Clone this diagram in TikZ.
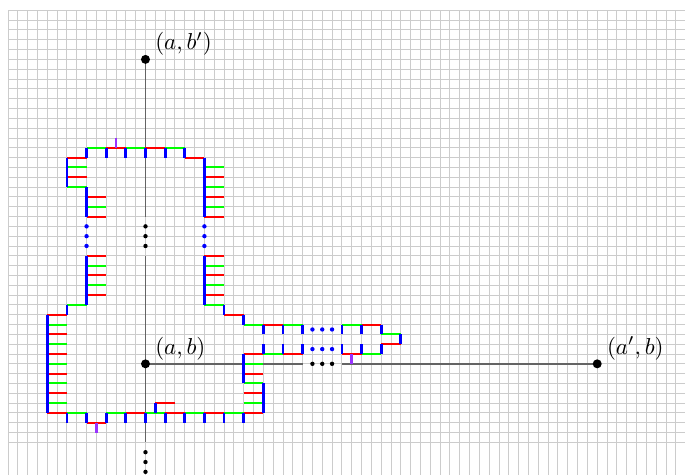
\documentclass[tikz,border=0pt]{standalone}
\definecolor{gridc}{RGB}{204,204,204}
\definecolor{axisc}{RGB}{100,100,100}
\definecolor{pur}{RGB}{153,51,255}
\definecolor{grn}{RGB}{0,255,0}
\definecolor{rd}{RGB}{255,0,0}
\definecolor{bl}{RGB}{0,0,255}
\begin{document}
\begin{tikzpicture}[x=0.15cm,y=-0.15cm,
  gridline/.style={draw=gridc,line width=0.4pt},
  axisline/.style={draw=axisc,line width=0.75pt},
  gseg/.style={draw=grn,line width=0.85pt},
  rseg/.style={draw=rd,line width=0.85pt},
  bseg/.style={draw=bl,line width=1.2pt},
  pseg/.style={draw=pur,line width=1.2pt},
  ptdot/.style={circle,fill=black,inner sep=0pt,minimum size=3.9pt},
  lab/.style={anchor=base west,inner sep=0pt}]
\useasboundingbox (-0.815,-1.05) rectangle (68.94,47.22);
\clip (-0.815,-1.05) rectangle (68.94,47.22);
% grid
\foreach \r in {0,...,44} \draw[gridline] (0,\r) -- (70,\r);
\foreach \c in {0,...,69} \draw[gridline] (\c,0) -- (\c,48);
% axes
\coordinate (abp) at (14,5);
\coordinate (ab) at (14,36);
\coordinate (apb) at (60,36);
\coordinate (v1) at (14,21);
\coordinate (v2) at (14,25);
\coordinate (v3) at (14,44);
\coordinate (h1) at (30,36);
\coordinate (h2) at (34,36);
\draw[axisline] (abp) -- (v1);
\draw[axisline] (v2) -- (v3);
\draw[axisline] (ab) -- (h1);
\draw[axisline] (h2) -- (apb);
\foreach \r in {22,23,24,45,46,47} \fill[black] (14,\r) circle (0.95pt);
\foreach \c in {31,32,33} \fill[black] (\c,36) circle (0.95pt);
% green segments
\foreach \r/\c in {14/8,14/12,14/16,16/6,16/20,18/6,18/20,20/8,20/20,26/8,26/20,28/8,28/20,30/6,30/20,32/4,32/24,32/28,32/34,33/38,34/4,35/26,35/36,36/4,36/24,38/4,38/24,40/4,40/24,41/6,41/10,41/14,41/18,41/22}
  \draw[gseg] (\c,\r) -- ++(2,0);
% red segments
\foreach \r/\c in {14/10,14/14,15/6,15/18,17/6,17/20,19/8,19/20,21/8,21/20,25/8,25/20,27/8,27/20,29/8,29/20,31/4,31/22,32/26,32/36,33/4,34/38,35/4,35/24,35/28,35/34,37/4,37/24,39/4,39/24,40/15,41/4,41/12,41/16,41/20,41/24,42/8}
  \draw[rseg] (\c,\r) -- ++(2,0);
% blue segments
\foreach \c/\a/\b in {4/31/41,6/15/18,6/30/31,6/41/42,8/14/15,8/18/21,8/25/30,8/41/42,10/14/15,10/41/42,12/14/15,12/41/42,14/14/15,14/41/42,15/40/41,16/14/15,16/41/42,18/14/15,18/41/42,20/15/21,20/25/30,20/41/42,22/30/31,22/41/42,24/31/32,24/35/38,24/41/42,26/32/33,26/34/35,26/38/41,28/32/33,28/34/35,30/32/33,30/34/35,34/32/33,34/34/35,36/32/33,36/34/35,38/32/33,38/34/35,40/33/34}
  \draw[bseg] (\c,\a) -- (\c,\b);
% purple ticks
\foreach \c/\a/\b in {11/13/14,9/42/43,35/35/36}
  \draw[pseg] (\c,\a) -- (\c,\b);
% blue dots
\foreach \r in {22,23,24} {\fill[bl] (8,\r) circle (0.95pt); \fill[bl] (20,\r) circle (0.95pt);}
\foreach \c in {31,32,33} {\fill[bl] (\c,32.5) circle (0.95pt); \fill[bl] (\c,34.5) circle (0.95pt);}
% points and labels
\node[ptdot] (Pabp) at (abp) {};
\node[ptdot] (Pab) at (ab) {};
\node[ptdot] (Papb) at (apb) {};
\node[lab] (Labp) at (14.95,4.0) {$(a,b')$};
\node[lab] (Lab) at (14.95,35.0) {$(a,b)$};
\node[lab] (Lapb) at (60.95,35.0) {$(a',b)$};
\end{tikzpicture}
\end{document}
